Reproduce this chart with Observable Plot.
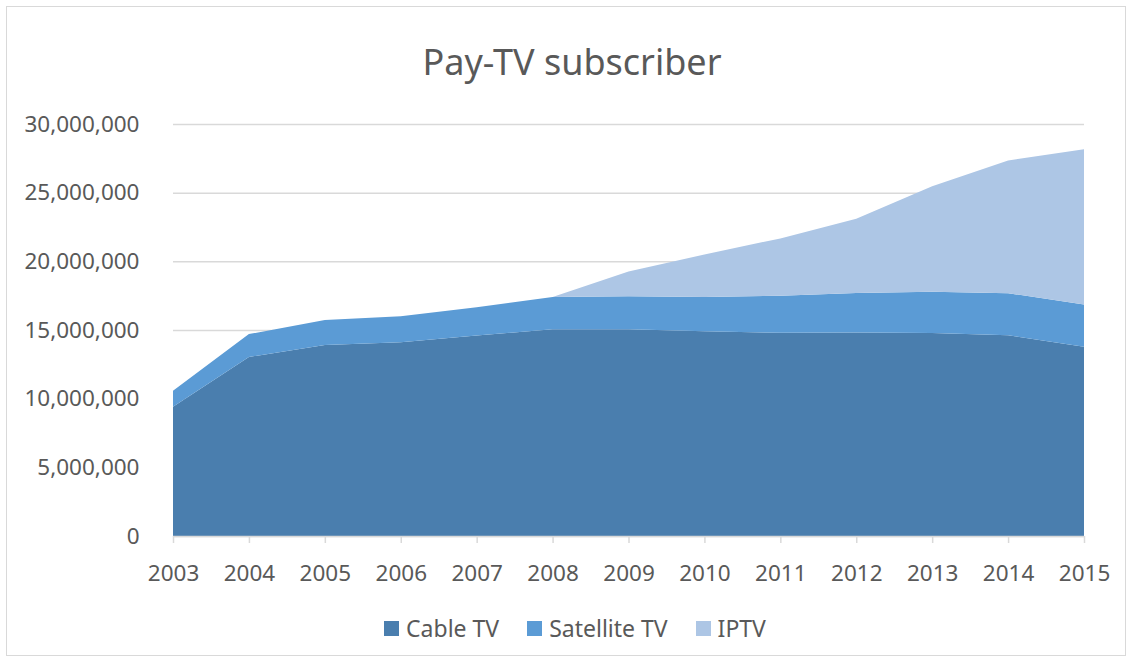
<!DOCTYPE html>
<html>
<head>
<meta charset="utf-8">
<script src="https://cdn.jsdelivr.net/npm/d3@7"></script>
<script src="https://cdn.jsdelivr.net/npm/@observablehq/plot@0.6"></script>
<style>
  html, body { margin: 0; padding: 0; background: #fff; }
  #wrap { position: relative; width: 1134px; height: 664px; overflow: hidden; font-family: "Noto Sans", "Open Sans", sans-serif; color: #595959; }
  #frame { position: absolute; left: 6px; top: 6px; width: 1120px; height: 650px; border: 1px solid #d9d9d9; box-sizing: border-box; }
  #title { position: absolute; left: 0; width: 1144px; top: 38px; text-align: center; font-size: 36px; line-height: 48px; color: #595959; }
  #chart { position: absolute; left: 0; top: 0; }
  #legend { position: absolute; left: 0; width: 1134px; top: 612px; display: flex; justify-content: center; gap: 28px; font-size: 23px; line-height: 32px; padding-left: 16px; box-sizing: border-box; }
  .item { display: flex; align-items: center; gap: 7px; }
  .sw { width: 15px; height: 15px; display: inline-block; }
</style>
</head>
<body>
<div id="wrap">
  <div id="frame"></div>
  <div id="chart"></div>
  <div id="title">Pay-TV subscriber</div>
  <div id="legend"></div>
</div>
<script>
const years = [2003, 2004, 2005, 2006, 2007, 2008, 2009, 2010, 2011, 2012, 2013, 2014, 2015];
const cableTV = [9420000, 13040000, 13900000, 14100000, 14600000, 15050000, 15050000, 14900000, 14800000, 14820000, 14780000, 14620000, 13780000];
const satelliteTV = [1160000, 1660000, 1820000, 1900000, 2060000, 2350000, 2410000, 2500000, 2690000, 2880000, 3000000, 3060000, 3080000];
const iptv = [0, 0, 0, 0, 0, 0, 1800000, 3100000, 4180000, 5400000, 7680000, 9660000, 11310000];
const seriesNames = ["Cable TV", "Satellite TV", "IPTV"];
const seriesColors = ["#4a7eae", "#5b9bd5", "#adc6e5"];
const yTicks = [0, 5000000, 10000000, 15000000, 20000000, 25000000, 30000000];

const seriesValues = [cableTV, satelliteTV, iptv];
const data = [];
seriesNames.forEach((name, i) => {
  years.forEach((yr, j) => data.push({ year: yr, series: name, value: seriesValues[i][j] }));
});

const chart = Plot.plot({
  width: 1134,
  height: 664,
  marginTop: 124,
  marginBottom: 128,
  marginLeft: 173,
  marginRight: 50,
  style: { fontFamily: '"Noto Sans", "Open Sans", sans-serif', fontSize: "22px", color: "#595959", background: "transparent" },
  x: { domain: [2003, 2015] },
  y: { domain: [0, 30000000] },
  color: { domain: seriesNames, range: seriesColors },
  marks: [
    Plot.gridY(yTicks, { stroke: "#d9d9d9", strokeOpacity: 1, strokeWidth: 1.5 }),
    Plot.areaY(data, { x: "year", y: "value", z: "series", fill: "series", fillOpacity: 1, order: seriesNames, curve: "linear" }),
    Plot.ruleY([0], { stroke: "#d9d9d9", strokeWidth: 1.5 }),
    Plot.axisY(yTicks, { tickSize: 0, tickPadding: 34, tickFormat: d3.format(","), fill: "#595959", fontSize: 22.5, label: null }),
    Plot.axisX(years, { tickSize: 7, tickPadding: 22, stroke: "#d9d9d9", strokeWidth: 1.5, tickFormat: d => String(d), fill: "#595959", fontSize: 22.5, label: null })
  ]
});
document.getElementById("chart").appendChild(chart);

const legend = document.getElementById("legend");
seriesNames.forEach((name, i) => {
  const it = document.createElement("div");
  it.className = "item";
  const sw = document.createElement("span");
  sw.className = "sw";
  sw.style.background = seriesColors[i];
  const tx = document.createElement("span");
  tx.textContent = name;
  it.appendChild(sw);
  it.appendChild(tx);
  legend.appendChild(it);
});
</script>
</body>
</html>
